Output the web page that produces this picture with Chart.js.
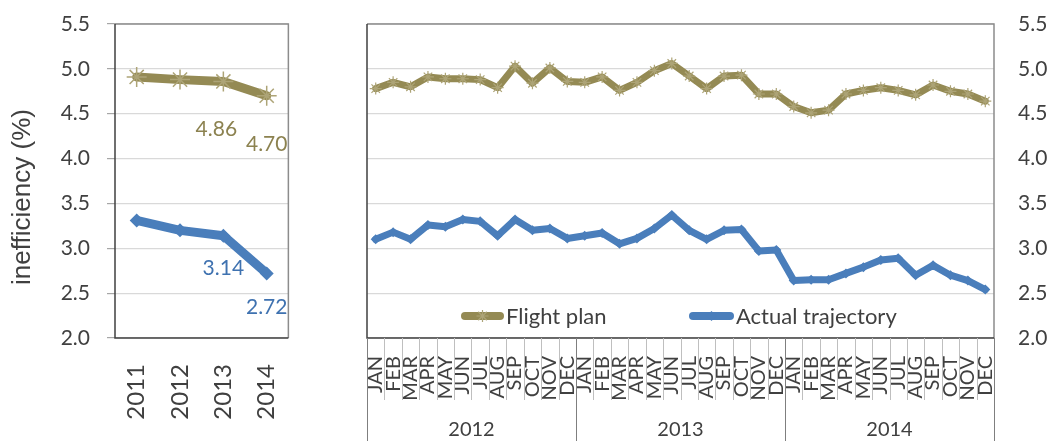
<!DOCTYPE html>
<html>
<head>
<meta charset="utf-8">
<script src="https://cdn.jsdelivr.net/npm/chart.js@4"></script>
<style>
  html, body { margin: 0; padding: 0; background: #fff; }
  body { width: 1053px; height: 441px; position: relative; overflow: hidden; }
  canvas { position: absolute; top: 0; }
  #yearChart { left: 0; }
  #monthChart { left: 340px; }
</style>
</head>
<body>
<canvas id="yearChart" width="315" height="441"></canvas>
<canvas id="monthChart" width="713" height="441"></canvas>
<script>
// yearly averages (left panel)
const years = ['2011', '2012', '2013', '2014'];
const flightPlanYearly = [4.91, 4.88, 4.86, 4.70];
const actualYearly = [3.31, 3.20, 3.14, 2.72];

// monthly values (right panel), Jan 2012 - Dec 2014
const monthNames = ['JAN', 'FEB', 'MAR', 'APR', 'MAY', 'JUN', 'JUL', 'AUG', 'SEP', 'OCT', 'NOV', 'DEC'];
const monthYears = ['2012', '2013', '2014'];
const months = [...monthNames, ...monthNames, ...monthNames];
const flightPlanMonthly = [
  4.78, 4.85, 4.80, 4.91, 4.89, 4.89, 4.88, 4.79, 5.03, 4.84, 5.01, 4.86,
  4.85, 4.91, 4.76, 4.85, 4.98, 5.06, 4.92, 4.78, 4.92, 4.93, 4.72, 4.72,
  4.58, 4.51, 4.54, 4.72, 4.76, 4.79, 4.76, 4.71, 4.82, 4.75, 4.72, 4.64
];
const actualMonthly = [
  3.10, 3.18, 3.10, 3.26, 3.24, 3.32, 3.30, 3.14, 3.32, 3.20, 3.22, 3.11,
  3.14, 3.17, 3.05, 3.11, 3.22, 3.37, 3.20, 3.10, 3.20, 3.21, 2.97, 2.98,
  2.64, 2.65, 2.65, 2.72, 2.79, 2.87, 2.89, 2.70, 2.81, 2.70, 2.64, 2.54
];

// value labels shown on the left panel (index into yearly arrays)
const labelledYears = [2, 3];

const yMin = 2.0;
const yMax = 5.5;
const yStep = 0.5;

const olive = '#948A54';
const oliveLight = '#ada477';
const blue = '#4A7EBB';
const textColor = '#404040';
const gridColor = '#d9d9d9';
const fontFamily = 'Lato, "Noto Sans", sans-serif';

// plot frame: dark left/bottom axis lines, grey top/right
function drawFrame(chart) {
  const { ctx, chartArea: a } = chart;
  ctx.save();
  ctx.lineWidth = 1.5;
  ctx.strokeStyle = '#8c8c8c';
  ctx.beginPath();
  ctx.moveTo(a.left, a.top);
  ctx.lineTo(a.right, a.top);
  ctx.lineTo(a.right, a.bottom);
  ctx.stroke();
  ctx.strokeStyle = '#404040';
  ctx.beginPath();
  ctx.moveTo(a.left, a.top);
  ctx.lineTo(a.left, a.bottom);
  ctx.lineTo(a.right, a.bottom);
  ctx.stroke();
  ctx.restore();
}

// keep the plot area where the layout padding puts it
function fixYPadding(scale, width) {
  scale.width = width;
  scale.paddingTop = 0;
  scale.paddingBottom = 0;
}

const yearPlugin = {
  id: 'yearExtras',
  beforeDatasetsDraw(chart) {
    drawFrame(chart);
  },
  afterDraw(chart) {
    const { ctx, chartArea: a } = chart;
    const offsets = [[[-7, 48], [0, 48]], [[0, 33], [0, 34]]];
    ctx.save();
    ctx.font = '21px ' + fontFamily;
    ctx.textAlign = 'center';
    ctx.textBaseline = 'middle';
    chart.data.datasets.forEach((ds, d) => {
      const meta = chart.getDatasetMeta(d);
      ctx.fillStyle = d === 0 ? '#8C8250' : '#3F72B0';
      labelledYears.forEach((idx, k) => {
        const pt = meta.data[idx];
        ctx.fillText(ds.data[idx].toFixed(2), pt.x + offsets[d][k][0], pt.y + offsets[d][k][1]);
      });
    });

    // axis title
    ctx.translate(23, (a.top + a.bottom) / 2 + 16);
    ctx.rotate(-Math.PI / 2);
    ctx.fillStyle = textColor;
    ctx.font = '26px "Liberation Sans", Arial, sans-serif';
    ctx.fillText('inefficiency (%)', 0, 0);
    ctx.restore();
  }
};

const monthPlugin = {
  id: 'monthExtras',
  beforeDatasetsDraw(chart) {
    drawFrame(chart);
  },
  afterDraw(chart) {
    const { ctx, chartArea: a } = chart;
    const x = chart.scales.x;
    const step = x.getPixelForValue(1) - x.getPixelForValue(0);
    ctx.save();
    // separators between month and year labels
    ctx.lineWidth = 1;
    for (let i = 0; i <= months.length; i++) {
      const px = Math.round(x.getPixelForValue(i) - step / 2) + 0.5;
      const isYear = i % 12 === 0;
      ctx.strokeStyle = isYear ? '#7f7f7f' : '#bfbfbf';
      ctx.beginPath();
      ctx.moveTo(px, a.bottom);
      ctx.lineTo(px, isYear ? chart.height : a.bottom + 62);
      ctx.stroke();
    }
    ctx.fillStyle = textColor;
    ctx.font = '20px ' + fontFamily;
    ctx.textAlign = 'center';
    ctx.textBaseline = 'middle';
    monthYears.forEach((yr, k) => {
      const cx = (x.getPixelForValue(k * 12) + x.getPixelForValue(k * 12 + 11)) / 2;
      ctx.fillText(yr, cx, a.bottom + 92);
    });

    // legend inside the plot area
    const ly = a.bottom - 22;
    const items = [[0, 98, 133, 139], [1, 326, 363, 369]];
    ctx.font = '22px ' + fontFamily;
    ctx.textAlign = 'left';
    items.forEach(([d, x0, x1, tx]) => {
      const ds = chart.data.datasets[d];
      ctx.strokeStyle = ds.borderColor;
      ctx.lineWidth = 8;
      ctx.lineCap = 'round';
      ctx.beginPath();
      ctx.moveTo(a.left + x0, ly);
      ctx.lineTo(a.left + x1, ly);
      ctx.stroke();
      ctx.lineWidth = ds.pointBorderWidth;
      ctx.lineCap = 'butt';
      ctx.fillStyle = ds.pointBackgroundColor;
      ctx.strokeStyle = ds.pointBorderColor;
      Chart.helpers.drawPoint(ctx, {
        pointStyle: ds.pointStyle, radius: ds.pointRadius, borderWidth: ds.pointBorderWidth, rotation: 0
      }, a.left + (x0 + x1) / 2, ly);
      ctx.fillStyle = textColor;
      ctx.fillText(ds.label, a.left + tx, ly + 1);
    });
    ctx.restore();
  }
};

new Chart(document.getElementById('yearChart'), {
  type: 'line',
  data: {
    labels: years,
    datasets: [{
      label: 'Flight plan',
      data: flightPlanYearly,
      borderColor: olive,
      backgroundColor: olive,
      borderWidth: 9,
      pointStyle: 'star',
      pointRadius: 10,
      pointBorderWidth: 1.5,
      pointBorderColor: oliveLight,
      pointBackgroundColor: olive
    }, {
      label: 'Actual trajectory',
      data: actualYearly,
      borderColor: blue,
      backgroundColor: blue,
      borderWidth: 9,
      pointStyle: 'rectRot',
      pointRadius: 7,
      pointBorderWidth: 0,
      pointBackgroundColor: blue
    }]
  },
  options: {
    responsive: false,
    animation: false,
    layout: { padding: { top: 24, right: 12, left: 0, bottom: 0 } },
    elements: { line: { borderJoinStyle: 'round', borderCapStyle: 'round', tension: 0 } },
    scales: {
      x: {
        offset: true,
        grid: { display: false },
        border: { display: false },
        ticks: {
          color: textColor,
          font: { family: fontFamily, size: 24 },
          minRotation: 90,
          maxRotation: 90,
          padding: 18
        },
        afterFit(scale) { scale.height = 103; }
      },
      y: {
        min: yMin,
        max: yMax,
        grid: { color: gridColor, tickColor: '#a6a6a6', tickLength: 8, lineWidth: 1.2 },
        border: { display: false },
        ticks: {
          stepSize: yStep,
          color: textColor,
          padding: 17,
          font: { family: fontFamily, size: 21 },
          callback: (v) => v.toFixed(1)
        },
        afterFit(scale) { fixYPadding(scale, 115); }
      }
    },
    plugins: {
      legend: { display: false },
      tooltip: { enabled: false }
    }
  },
  plugins: [yearPlugin]
});

new Chart(document.getElementById('monthChart'), {
  type: 'line',
  data: {
    labels: months,
    datasets: [{
      label: 'Flight plan',
      data: flightPlanMonthly,
      borderColor: olive,
      backgroundColor: olive,
      borderWidth: 7,
      pointStyle: 'star',
      pointRadius: 6,
      pointBorderWidth: 1.2,
      pointBorderColor: oliveLight,
      pointBackgroundColor: olive
    }, {
      label: 'Actual trajectory',
      data: actualMonthly,
      borderColor: blue,
      backgroundColor: blue,
      borderWidth: 7,
      pointStyle: 'rectRot',
      pointRadius: 5,
      pointBorderWidth: 0,
      pointBorderColor: blue,
      pointBackgroundColor: blue
    }]
  },
  options: {
    responsive: false,
    animation: false,
    layout: { padding: { top: 24, left: 27, right: 0, bottom: 0 } },
    elements: { line: { borderJoinStyle: 'round', borderCapStyle: 'round', tension: 0 } },
    scales: {
      x: {
        offset: true,
        grid: { display: false },
        border: { display: false },
        ticks: {
          color: textColor,
          font: { family: fontFamily, size: 20 },
          autoSkip: false,
          minRotation: 90,
          maxRotation: 90,
          padding: 10
        },
        afterFit(scale) { scale.height = 103; }
      },
      y: {
        position: 'right',
        min: yMin,
        max: yMax,
        grid: { color: gridColor, drawTicks: false, lineWidth: 1.2 },
        border: { display: false },
        ticks: {
          stepSize: yStep,
          color: textColor,
          padding: 24,
          font: { family: fontFamily, size: 21 },
          callback: (v) => v.toFixed(1)
        },
        afterFit(scale) { fixYPadding(scale, 59); }
      }
    },
    plugins: {
      legend: { display: false },
      tooltip: { enabled: false }
    }
  },
  plugins: [monthPlugin]
});
</script>
</body>
</html>
